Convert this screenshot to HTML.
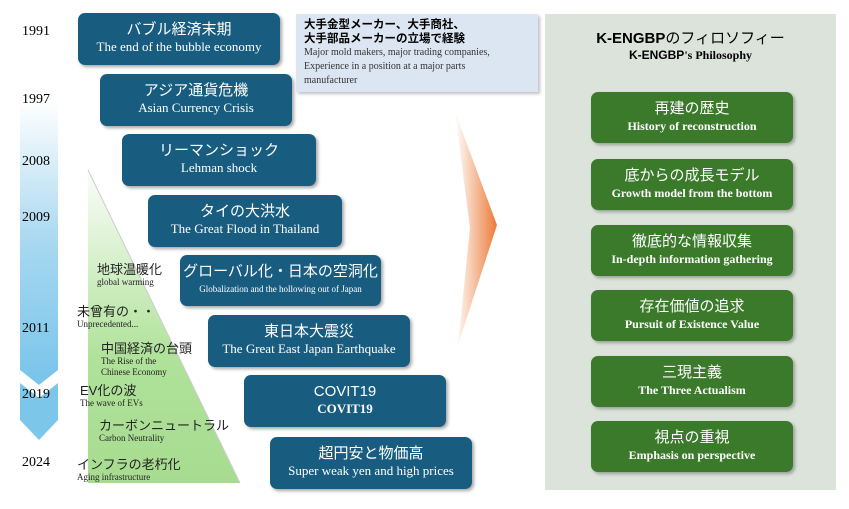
<!DOCTYPE html>
<html><head><meta charset="utf-8"><style>
body{margin:0;width:849px;height:509px;background:#fff;position:relative;overflow:hidden;font-family:"Liberation Serif","Noto Sans CJK JP",serif}
.a{position:absolute}
.b{position:absolute;background:#185d80;border-radius:7px;color:#fff;text-align:center;box-shadow:2px 2px 3px rgba(0,0,0,.35)}
.b .j{font-family:"Liberation Sans","Noto Sans CJK JP",sans-serif;font-size:15px;line-height:18px;margin-top:8px}
.b .e{font-size:13px;line-height:16px}
.g{position:absolute;left:591px;width:202px;height:51px;background:#3a7a2a;border-radius:7px;color:#fff;text-align:center;box-shadow:2px 2px 3px rgba(0,0,0,.3)}
.g .j{font-family:"Liberation Sans","Noto Sans CJK JP",sans-serif;font-size:15px;line-height:18px;margin-top:8px}
.g .e{font-size:12px;font-weight:bold;line-height:16px}
.y{position:absolute;left:22px;font-size:14px;color:#000}
.t{position:absolute;font-family:"Liberation Sans","Noto Sans CJK JP",sans-serif;font-size:13px;line-height:15px;color:#222}
.t i{display:block;font-style:normal;font-family:"Liberation Serif",serif;font-size:9px;line-height:11px}
</style></head><body>
<svg class="a" style="left:0;top:0" width="849" height="509">
<defs>
<linearGradient id="bl" x1="0" y1="0" x2="0" y2="1"><stop offset="0" stop-color="#fff"/><stop offset="0.5" stop-color="#a8d8f0"/><stop offset="1" stop-color="#78c4ea"/></linearGradient>
<linearGradient id="gr" x1="0" y1="0" x2="0" y2="1"><stop offset="0" stop-color="#fbfdfa"/><stop offset="0.6" stop-color="#b0e29a"/><stop offset="1" stop-color="#a7dc90"/></linearGradient>
<linearGradient id="or" x1="0" y1="0" x2="1" y2="0"><stop offset="0" stop-color="#fff"/><stop offset="1" stop-color="#ec7a38"/></linearGradient>
</defs>
<polygon points="20,100 58,100 58,370 39,385 20,370" fill="url(#bl)"/>
<polygon points="20,383 39,398 58,383 58,420 39,440 20,420" fill="#7cc6ea"/>
<polygon points="88,170 240,483 88,483" fill="url(#gr)"/>
<line x1="88" y1="170" x2="240" y2="483" stroke="#ccc" stroke-width="1"/>
<polygon points="455,112 497,225 458,345 470,228" fill="url(#or)"/>
<rect x="545" y="14" width="291" height="476" fill="#dbe3db"/>
</svg>
<div class="y" style="top:24px">1991</div>
<div class="y" style="top:92px">1997</div>
<div class="y" style="top:154px">2008</div>
<div class="y" style="top:210px">2009</div>
<div class="y" style="top:321px">2011</div>
<div class="y" style="top:387px">2019</div>
<div class="y" style="top:455px">2024</div>

<div class="t" style="left:97px;top:262px">地球温暖化<i>global warming</i></div>
<div class="t" style="left:77px;top:304px">未曾有の・・<i>Unprecedented...</i></div>
<div class="t" style="left:101px;top:341px">中国経済の台頭<i>The Rise of the<br>Chinese Economy</i></div>
<div class="t" style="left:80px;top:383px">EV化の波<i>The wave of EVs</i></div>
<div class="t" style="left:99px;top:418px">カーボンニュートラル<i>Carbon Neutrality</i></div>
<div class="t" style="left:77px;top:457px">インフラの老朽化<i>Aging infrastructure</i></div>

<div class="b" style="left:78px;top:13px;width:202px;height:52px"><div class="j">バブル経済末期</div><div class="e">The end of the bubble economy</div></div>
<div class="b" style="left:100px;top:74px;width:192px;height:52px"><div class="j">アジア通貨危機</div><div class="e">Asian Currency Crisis</div></div>
<div class="b" style="left:122px;top:134px;width:194px;height:52px"><div class="j">リーマンショック</div><div class="e">Lehman shock</div></div>
<div class="b" style="left:148px;top:195px;width:194px;height:52px"><div class="j">タイの大洪水</div><div class="e">The Great Flood in Thailand</div></div>
<div class="b" style="left:180px;top:255px;width:201px;height:51px"><div class="j">グローバル化・日本の空洞化</div><div class="e" style="font-size:9px">Globalization and the hollowing out of Japan</div></div>
<div class="b" style="left:208px;top:315px;width:202px;height:52px"><div class="j">東日本大震災</div><div class="e">The Great East Japan Earthquake</div></div>
<div class="b" style="left:244px;top:375px;width:202px;height:52px"><div class="j">COVIT19</div><div class="e" style="font-weight:bold">COVIT19</div></div>
<div class="b" style="left:270px;top:437px;width:202px;height:52px"><div class="j">超円安と物価高</div><div class="e">Super weak yen and high prices</div></div>

<div class="a" style="left:296px;top:14px;width:242px;height:78px;background:#dce6f2;box-shadow:2px 2px 3px rgba(0,0,0,.25);padding:4px 0 0 8px;box-sizing:border-box">
<div style="font-family:'Liberation Sans','Noto Sans CJK JP',sans-serif;font-weight:bold;font-size:11.5px;line-height:14px">大手金型メーカー、大手商社、<br>大手部品メーカーの立場で経験</div>
<div style="font-size:10px;line-height:14px;color:#333">Major mold makers, major trading companies,<br>Experience in a position at a major parts<br>manufacturer</div></div>

<div class="a" style="left:545px;top:30px;width:291px;text-align:center">
<div style="font-family:'Liberation Sans','Noto Sans CJK JP',sans-serif;font-size:15px;line-height:18px"><b>K-ENGBP</b>のフィロソフィー</div>
<div style="font-size:12px;font-weight:bold;line-height:14px"><span style="font-family:'Liberation Sans',sans-serif">K-ENGBP</span>'s Philosophy</div></div>

<div class="g" style="top:92px"><div class="j">再建の歴史</div><div class="e">History of reconstruction</div></div>
<div class="g" style="top:159px"><div class="j">底からの成長モデル</div><div class="e">Growth model from the bottom</div></div>
<div class="g" style="top:225px"><div class="j">徹底的な情報収集</div><div class="e">In-depth information gathering</div></div>
<div class="g" style="top:290px"><div class="j">存在価値の追求</div><div class="e">Pursuit of Existence Value</div></div>
<div class="g" style="top:356px"><div class="j">三現主義</div><div class="e">The Three Actualism</div></div>
<div class="g" style="top:421px"><div class="j">視点の重視</div><div class="e">Emphasis on perspective</div></div>
</body></html>
